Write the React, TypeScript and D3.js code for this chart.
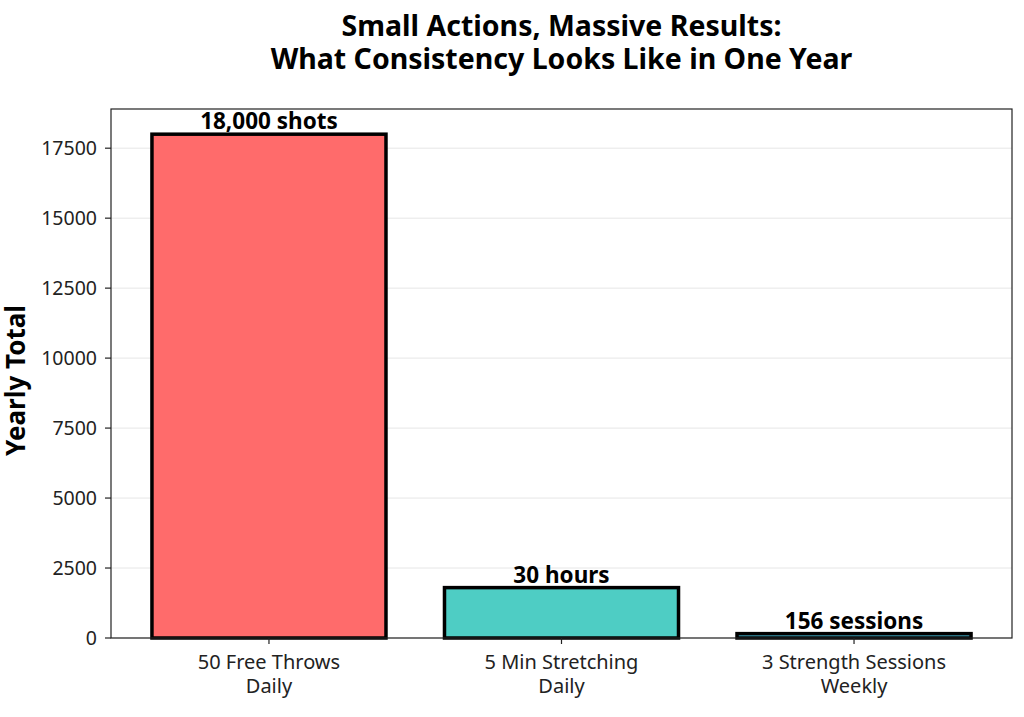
import React from "react";
import * as d3 from "d3";

const categories = ["50 Free Throws\nDaily", "5 Min Stretching\nDaily", "3 Strength Sessions\nWeekly"];
const values = [18000, 1800, 156];
const barLabels = ["18,000 shots", "30 hours", "156 sessions"];
const colors = ["#FF6B6B", "#4ECDC4", "#45B7D1"];
const yTicks = [0, 2500, 5000, 7500, 10000, 12500, 15000, 17500];
const titleLines = ["Small Actions, Massive Results:", "What Consistency Looks Like in One Year"];

const W = 1024, H = 717;
const M = { left: 111, right: 1012, top: 109, bottom: 638 };
const FONT = "'Noto Sans', 'Open Sans', sans-serif";

export default function App() {
  const x = d3.scaleLinear().domain([-0.54, 2.54]).range([M.left, M.right]);
  const y = d3.scaleLinear().domain([0, 18900]).range([M.bottom, M.top]);
  const bw = x(0.4) - x(0);
  return (
    <svg width={W} height={H} style={{ position: "absolute", left: 0, top: 0 }} fontFamily={FONT}>
      <rect width={W} height={H} fill="#fff" />
      {titleLines.map((t, i) => (
        <text key={i} x={(M.left + M.right) / 2} y={36 + i * 33} textAnchor="middle" fontSize={28.5} fontWeight="bold" fill="#000">{t}</text>
      ))}
      {yTicks.map((t) => (
        <line key={t} x1={M.left} x2={M.right} y1={y(t)} y2={y(t)} stroke="#e6e6e6" strokeWidth={1} />
      ))}
      {values.map((v, i) => (
        <rect key={i} x={x(i) - bw} y={y(v)} width={bw * 2} height={y(0) - y(v)} fill={colors[i]} stroke="#000" strokeWidth={3.5} />
      ))}
      {values.map((v, i) => (
        <text key={i} x={x(i)} y={y(v) - 5} textAnchor="middle" fontSize={22.5} fontWeight="bold" fill="#000">{barLabels[i]}</text>
      ))}
      <rect x={M.left} y={M.top} width={M.right - M.left} height={M.bottom - M.top} fill="none" stroke="#222" strokeWidth={1.2} />
      {yTicks.map((t) => (
        <g key={t}>
          <line x1={M.left - 6} x2={M.left} y1={y(t)} y2={y(t)} stroke="#222" strokeWidth={1.2} />
          <text x={M.left - 14} y={y(t)} dy="0.35em" textAnchor="end" fontSize={19.5} fill="#222">{t}</text>
        </g>
      ))}
      {categories.map((c, i) => (
        <g key={i}>
          <line x1={x(i)} x2={x(i)} y1={M.bottom} y2={M.bottom + 6} stroke="#222" strokeWidth={1.2} />
          {c.split("\n").map((l, j) => (
            <text key={j} x={x(i)} y={M.bottom + 31 + j * 24} textAnchor="middle" fontSize={20} fill="#222">{l}</text>
          ))}
        </g>
      ))}
      <text transform={`translate(25,${(M.top + M.bottom) / 2 + 7}) rotate(-90)`} textAnchor="middle" fontSize={26} fontWeight="bold" fill="#000">Yearly Total</text>
    </svg>
  );
}
